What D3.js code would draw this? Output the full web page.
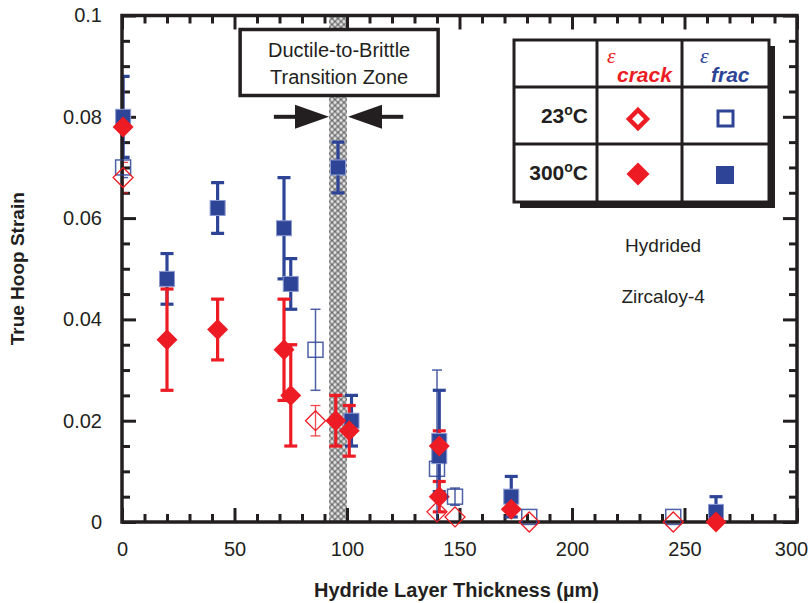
<!DOCTYPE html>
<html>
<head>
<meta charset="utf-8">
<script src="https://cdn.jsdelivr.net/npm/d3@7"></script>
<style>
body { margin: 0; background: #fff; }
text { font-family: "Liberation Sans", Arial, Helvetica, sans-serif; fill: #231f20; }
</style>
</head>
<body>
<div class="chart"></div>
<script>
// tick values / labels
var xTicksMajor = [0, 50, 100, 150, 200, 250, 300];
var yTicksMajor = [0, 0.02, 0.04, 0.06, 0.08, 0.1];
var yTickLabels = ["0", "0.02", "0.04", "0.06", "0.08", "0.1"];

// ductile-to-brittle band, in um
var bandRange = [92, 100];

// [thickness um, strain, +/- error]
var frac300 = [
  [0.5, 0.080, 0.008], [20, 0.048, 0.005], [42.5, 0.062, 0.005], [72, 0.058, 0.010],
  [75, 0.047, 0.005], [96, 0.070, 0.005], [102, 0.020, 0.005], [141, 0.016, 0.010],
  [141, 0.013, 0], [173, 0.005, 0.004], [264, 0.002, 0.003]
];
var crack300 = [
  [0.5, 0.078, 0], [20, 0.036, 0.010], [42.5, 0.038, 0.006], [72, 0.034, 0.010],
  [75, 0.025, 0.010], [95, 0.020, 0.005], [101, 0.018, 0.005], [141, 0.015, 0.003],
  [141, 0.005, 0.003], [173, 0.0025, 0], [264, 0, 0]
];
var frac23 = [
  [0.5, 0.070, 0.002], [86, 0.034, 0.008], [140, 0.0105, 0.0195], [148, 0.005, 0.0017],
  [181, 0.001, 0], [245, 0.001, 0]
];
var crack23 = [
  [0.5, 0.068, 0.003], [86, 0.020, 0.003], [140, 0.002, 0], [148, 0.001, 0],
  [181, 0, 0], [245, 0, 0]
];

var ink = "#231f20", red = "#ed1c24", blue = "#2e4597";

var margin = {top: 15.5, right: 13, bottom: 81, left: 122};
var width = 810 - margin.left - margin.right;
var height = 603 - margin.top - margin.bottom;

var svg = d3.select(".chart").append("svg")
    .attr("width", 810)
    .attr("height", 603);

var defs = svg.append("defs");
var pat = defs.append("pattern")
    .attr("id", "hatch")
    .attr("patternUnits", "userSpaceOnUse")
    .attr("width", 6).attr("height", 6);
pat.append("rect").attr("width", 6).attr("height", 6).attr("fill", "#6f6f6f");
[[0, 0], [6, 0], [0, 6], [6, 6], [3, 3]].forEach(function(p) {
  pat.append("circle").attr("cx", p[0]).attr("cy", p[1]).attr("r", 1.7).attr("fill", "#e3e3e3");
});
defs.append("clipPath").attr("id", "plotclip")
  .append("rect").attr("width", width).attr("height", height);

var g = svg.append("g").attr("transform", "translate(" + margin.left + "," + margin.top + ")");

var x = d3.scaleLinear().domain([0, 300]).range([0, width]);
var y = d3.scaleLinear().domain([0, 0.1]).range([height, 0]);

// shaded transition band
g.append("rect")
    .attr("x", x(bandRange[0]))
    .attr("width", x(bandRange[1]) - x(bandRange[0]))
    .attr("y", 0)
    .attr("height", height)
    .attr("fill", "url(#hatch)");

// axes, ticks inward on all four sides
var xMinor = d3.range(0, 301, 10).filter(function(d) { return d % 50; });
var yMinor = d3.range(0, 0.1001, 0.005).filter(function(d) { return Math.abs(d / 0.02 - Math.round(d / 0.02)) > 0.01; });

function drawAxis(axis, tr) {
  var a = g.append("g").attr("transform", tr).call(axis);
  a.select(".domain").remove();
  a.selectAll("line").attr("stroke", ink).attr("stroke-width", 3);
  a.selectAll("text").attr("font-size", 20).attr("fill", ink)
      .style("font-family", '"Liberation Sans", Arial, sans-serif');
  return a;
}
var xb = drawAxis(d3.axisBottom(x).tickValues(xTicksMajor).tickSize(-14).tickPadding(20).tickFormat(d3.format("d")), "translate(0," + height + ")");
xb.selectAll("text").filter(function(d) { return d === 300; }).attr("dx", -6);
drawAxis(d3.axisBottom(x).tickValues(xMinor).tickSize(-8).tickFormat(""), "translate(0," + height + ")");
drawAxis(d3.axisTop(x).tickValues(xTicksMajor).tickSize(-14).tickFormat(""), "translate(0,0)");
drawAxis(d3.axisTop(x).tickValues(xMinor).tickSize(-8).tickFormat(""), "translate(0,0)");
drawAxis(d3.axisLeft(y).tickValues(yTicksMajor).tickSize(-14).tickPadding(20).tickFormat(function(d, i) { return yTickLabels[i]; }), "translate(0,0)");
drawAxis(d3.axisLeft(y).tickValues(yMinor).tickSize(-8).tickFormat(""), "translate(0,0)");
drawAxis(d3.axisRight(y).tickValues(yTicksMajor).tickSize(-14).tickFormat(""), "translate(" + width + ",0)");
drawAxis(d3.axisRight(y).tickValues(yMinor).tickSize(-8).tickFormat(""), "translate(" + width + ",0)");

// axis titles
svg.append("text")
    .attr("x", margin.left + width / 2 - 3).attr("y", 597)
    .attr("text-anchor", "middle")
    .attr("font-size", 20).attr("font-weight", "bold")
    .text("Hydride Layer Thickness (\u00b5m)");
svg.append("text")
    .attr("transform", "translate(24," + (margin.top + height / 2) + ") rotate(-90)")
    .attr("text-anchor", "middle")
    .attr("font-size", 19).attr("font-weight", "bold")
    .text("True Hoop Strain");

// transition zone annotation
var ann = g.append("g");
ann.append("rect")
    .attr("x", x(52.5)).attr("y", 14)
    .attr("width", x(140.5) - x(52.5)).attr("height", 66)
    .attr("fill", "#fff").attr("stroke", ink).attr("stroke-width", 3.5);
ann.append("text")
    .attr("x", x(96.5)).attr("y", 41)
    .attr("text-anchor", "middle").attr("font-size", 20)
    .text("Ductile-to-Brittle");
ann.append("text")
    .attr("x", x(96.5)).attr("y", 68)
    .attr("text-anchor", "middle").attr("font-size", 20)
    .text("Transition Zone");

function arrow(x0, x1) {
  var ya = y(0.08), dir = x1 > x0 ? 1 : -1, head = 34;
  ann.append("line")
      .attr("x1", x0).attr("x2", x1 - dir * head).attr("y1", ya).attr("y2", ya)
      .attr("stroke", ink).attr("stroke-width", 4);
  ann.append("path")
      .attr("d", "M" + x1 + "," + ya + "L" + (x1 - dir * head) + "," + (ya - 12) + "L" + (x1 - dir * head) + "," + (ya + 12) + "Z")
      .attr("fill", ink);
}
arrow(x(67.5), x(bandRange[0]));
arrow(x(125), x(bandRange[1]) + 1);

// notes
g.append("text").attr("x", x(240.5)).attr("y", 236).attr("text-anchor", "middle").attr("font-size", 19).text("Hydrided");
g.append("text").attr("x", x(240.5)).attr("y", 287).attr("text-anchor", "middle").attr("font-size", 19).text("Zircaloy-4");

// markers
function diamondPath(r) { return "M0," + (-r) + "L" + r + ",0L0," + r + "L" + (-r) + ",0Z"; }

function errorBars(data, color, sw, cap, op) {
  var eg = g.append("g").attr("clip-path", "url(#plotclip)")
      .attr("stroke", color).attr("stroke-width", sw).attr("opacity", op);
  data.filter(function(d) { return d[2] > 0; }).forEach(function(d) {
    var lo = Math.max(0, d[1] - d[2]), hi = d[1] + d[2];
    var cx = x(d[0]);
    eg.append("line").attr("x1", cx).attr("x2", cx).attr("y1", y(lo)).attr("y2", y(hi));
    eg.append("line").attr("x1", cx - cap / 2).attr("x2", cx + cap / 2).attr("y1", y(hi)).attr("y2", y(hi));
    if (lo > 0) eg.append("line").attr("x1", cx - cap / 2).attr("x2", cx + cap / 2).attr("y1", y(lo)).attr("y2", y(lo));
  });
}

errorBars(frac300, blue, 3.2, 13, 1);
errorBars(crack300, red, 3.2, 13, 1);
errorBars(frac23, blue, 1.5, 10, 0.85);
errorBars(crack23, red, 1.3, 10, 0.8);

// frame drawn over the error bars so x=0 bars hide under the axis
g.append("rect")
    .attr("width", width).attr("height", height)
    .attr("fill", "none").attr("stroke", ink).attr("stroke-width", 3.5);

g.append("g").selectAll("rect").data(frac300).join("rect")
    .attr("x", function(d) { return x(d[0]) - 7.5; })
    .attr("y", function(d) { return y(d[1]) - 7.5; })
    .attr("width", 15).attr("height", 15)
    .attr("fill", blue).attr("stroke", "#8d9ad0").attr("stroke-width", 1);

g.append("g").selectAll("path").data(crack300).join("path")
    .attr("transform", function(d) { return "translate(" + x(d[0]) + "," + y(d[1]) + ")"; })
    .attr("d", diamondPath(10.5))
    .attr("fill", red);

g.append("g").selectAll("rect").data(frac23).join("rect")
    .attr("x", function(d) { return x(d[0]) - 7.5; })
    .attr("y", function(d) { return y(d[1]) - 7.5; })
    .attr("width", 15).attr("height", 15)
    .attr("fill", "none").attr("stroke", blue).attr("stroke-width", 1.5).attr("opacity", 0.85);

g.append("g").selectAll("path").data(crack23).join("path")
    .attr("transform", function(d) { return "translate(" + x(d[0]) + "," + y(d[1]) + ")"; })
    .attr("d", diamondPath(10))
    .attr("fill", "none").attr("stroke", red).attr("stroke-width", 1.3);

// legend table
var lg = svg.append("g").attr("transform", "translate(514,40)");
var lw = 255, lh = 162, c1 = 83, c2 = 168, r1 = 47, r2 = 104;
lg.append("rect").attr("x", 6).attr("y", 6).attr("width", lw).attr("height", lh).attr("fill", ink);
lg.append("rect").attr("width", lw).attr("height", lh).attr("fill", "#fff").attr("stroke", ink).attr("stroke-width", 3);
lg.append("g").attr("stroke", ink).attr("stroke-width", 3).call(function(s) {
  s.append("line").attr("x1", c1).attr("x2", c1).attr("y1", 0).attr("y2", lh);
  s.append("line").attr("x1", c2).attr("x2", c2).attr("y1", 0).attr("y2", lh);
  s.append("line").attr("x1", 0).attr("x2", lw).attr("y1", r1).attr("y2", r1);
  s.append("line").attr("x1", 0).attr("x2", lw).attr("y1", r2).attr("y2", r2);
});
[["crack", red, 93, 103], ["frac", blue, 186, 197]].forEach(function(h) {
  lg.append("text").attr("x", h[2]).attr("y", 23)
      .style("font-family", '"Liberation Serif", "Times New Roman", serif')
      .attr("font-style", "italic").attr("font-size", 22).style("fill", h[1]).text("\u03b5");
  lg.append("text").attr("x", h[3]).attr("y", 42)
      .attr("font-style", "italic").attr("font-weight", "bold").attr("font-size", 21).style("fill", h[1]).text(h[0]);
});
[["23", 83], ["300", 140]].forEach(function(r) {
  var t = lg.append("text").attr("x", 74).attr("y", r[1]).attr("text-anchor", "end")
      .attr("font-weight", "bold").attr("font-size", 21);
  t.append("tspan").text(r[0]);
  t.append("tspan").attr("font-size", 14).attr("dy", -8).text("o");
  t.append("tspan").attr("dy", 8).text("C");
});
lg.append("path").attr("transform", "translate(124,79)").attr("d", diamondPath(9)).attr("fill", "none").attr("stroke", red).attr("stroke-width", 4.5);
lg.append("rect").attr("x", 204).attr("y", 71).attr("width", 15).attr("height", 15).attr("fill", "none").attr("stroke", blue).attr("stroke-width", 3);
lg.append("path").attr("transform", "translate(124,134)").attr("d", diamondPath(11.5)).attr("fill", red);
lg.append("rect").attr("x", 202).attr("y", 126).attr("width", 18).attr("height", 18).attr("fill", blue);
</script>
</body>
</html>
